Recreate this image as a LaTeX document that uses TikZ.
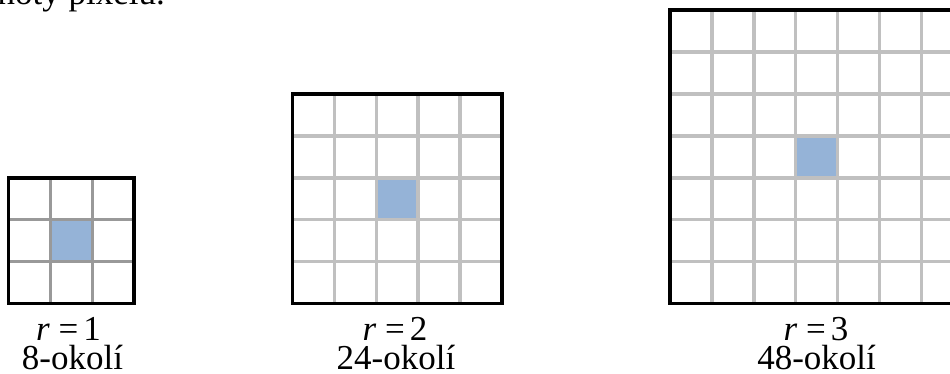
\documentclass[tikz,border=0pt]{standalone}
\usepackage{fontspec}
\setmainfont{Liberation Serif}
\definecolor{gridA}{HTML}{999999}
\definecolor{gridB}{HTML}{C0C0C0}
\definecolor{pix}{HTML}{95B3D7}
\begin{document}
\begin{tikzpicture}[x=1pt,y=-1pt,
  frame/.style={draw=black,line width=3.5pt},
  gridline/.style={line width=3.5pt},
  lbl/.style={font=\fontsize{35}{35}\selectfont, inner sep=0pt, anchor=base}]
\useasboundingbox (0,0) rectangle (950,374);
\clip (0,0) rectangle (950,374);
\def\c{41.9}
% grid 1 (r=1)
\fill[pix] (8.5+\c,177.8+\c) rectangle ++(\c,\c);
\foreach \i in {1,2} {
  \draw[gridline,gridA] (8.5+\i*\c,177.8) -- ++(0,3*\c);
  \draw[gridline,gridA] (8.5,177.8+\i*\c) -- ++(3*\c+2,0);
}
\draw[frame] (8.5,177.8) rectangle ++(3*\c,3*\c);
% grid 2 (r=2)
\fill[pix] (292.5+2*\c,94+2*\c) rectangle ++(\c,\c);
\foreach \i in {1,...,4} {
  \draw[gridline,gridB] (292.5+\i*\c,94) -- ++(0,5*\c);
  \draw[gridline,gridB] (292.5,94+\i*\c) -- ++(5*\c,0);
}
\draw[frame] (292.5,94) rectangle ++(5*\c,5*\c);
% grid 3 (r=3)
\fill[pix] (670+3*\c,10.2+3*\c) rectangle ++(\c,\c);
\foreach \i in {1,...,6} {
  \draw[gridline,gridB] (670+\i*\c,10.2) -- ++(0,7*\c);
  \draw[gridline,gridB] (670,10.2+\i*\c) -- ++(7*\c,0);
}
\draw[frame] (670,10.2) rectangle ++(7*\c,7*\c);
% labels
\node[lbl] (r1) at (68.5,340.5) {\textit{r}\hspace{0.25em}=\hspace{0.14em}1};
\node[lbl] (n1) at (72.5,369.5) {8-okolí};
\node[lbl] (r2) at (395,340.5) {\textit{r}\hspace{0.25em}=\hspace{0.14em}2};
\node[lbl] (n2) at (396,369.5) {24-okolí};
\node[lbl] (r3) at (816,340.5) {\textit{r}\hspace{0.25em}=\hspace{0.14em}3};
\node[lbl] (n3) at (816.6,369.5) {48-okolí};
\node[lbl,anchor=base east] (top) at (165,4.5) {hodnoty pixelu.};
\end{tikzpicture}
\end{document}
